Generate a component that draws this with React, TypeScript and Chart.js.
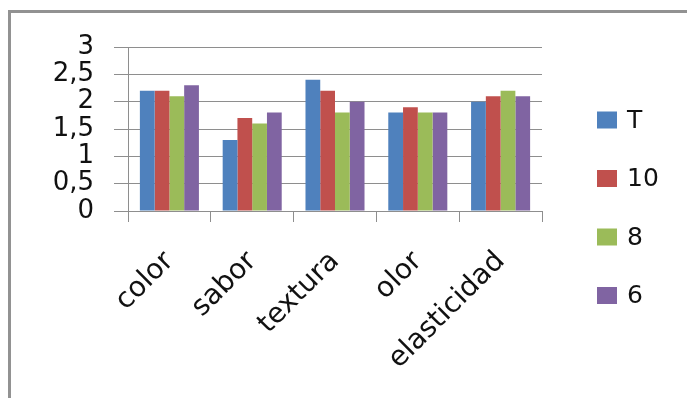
import React, { useEffect, useRef } from 'react';
import { Chart, registerables } from 'chart.js';

Chart.register(...registerables);

const categories = ['color', 'sabor', 'textura', 'olor', 'elasticidad'];
const seriesNames = ['T', '10', '8', '6'];
const seriesT = [2.2, 1.3, 2.4, 1.8, 2.0];
const series10 = [2.2, 1.7, 2.2, 1.9, 2.1];
const series8 = [2.1, 1.6, 1.8, 1.8, 2.2];
const series6 = [2.3, 1.8, 2.0, 1.8, 2.1];
const seriesColors = ['#4F81BD', '#C0504D', '#9BBB59', '#8064A2'];
const yTickLabels = ['0', '0,5', '1', '1,5', '2', '2,5', '3'];

const FONT = '"DejaVu Sans", sans-serif';
const GRID = '#8e8e8e';

const sideLegend = {
  id: 'sideLegend',
  afterDraw(chart: any) {
    const ctx = chart.ctx;
    const x0 = chart.chartArea.right + 55;
    ctx.save();
    ctx.font = `25px ${FONT}`;
    ctx.textBaseline = 'middle';
    ctx.textAlign = 'left';
    chart.data.datasets.forEach((ds: any, i: number) => {
      const cy = 120 + i * 58.5;
      ctx.fillStyle = ds.backgroundColor;
      ctx.fillRect(x0, cy - 8.5, 20, 17);
      ctx.fillStyle = '#111';
      ctx.fillText(ds.label, x0 + 30, cy + 1);
    });
    ctx.restore();
  },
};

export default function App() {
  const ref = useRef<HTMLCanvasElement>(null);
  useEffect(() => {
    if (!ref.current) return;
    const values = [seriesT, series10, series8, series6];
    const chart = new Chart(ref.current, {
      type: 'bar',
      data: {
        labels: categories,
        datasets: seriesNames.map((name, i) => ({
          label: name,
          data: values[i],
          backgroundColor: seriesColors[i],
          borderWidth: 0,
          categoryPercentage: 0.713,
          barPercentage: 1,
        })),
      },
      options: {
        animation: false,
        responsive: false,
        maintainAspectRatio: false,
        events: [],
        layout: { padding: { left: 0, top: 47, right: 145, bottom: 0 } },
        plugins: {
          legend: { display: false },
          tooltip: { enabled: false },
          title: { display: false },
        },
        scales: {
          x: {
            grid: {
              display: true,
              drawOnChartArea: false,
              drawTicks: true,
              tickLength: 11,
              color: GRID,
              offset: true,
            },
            border: { display: true, color: GRID },
            ticks: {
              autoSkip: false,
              minRotation: 45,
              maxRotation: 45,
              padding: 23,
              color: '#111',
              font: { family: FONT, size: 28 },
            },
            afterFit(scale: any) {
              scale.height = 187;
            },
          },
          y: {
            min: 0,
            max: 3,
            ticks: {
              stepSize: 0.5,
              autoSkip: false,
              padding: 20,
              color: '#111',
              font: { family: FONT, size: 26, lineHeight: 0.8 },
              callback: (_v: any, i: number) => yTickLabels[i],
            },
            grid: { color: GRID, tickLength: 14, drawTicks: true },
            border: { display: true, color: GRID },
            afterFit(scale: any) {
              scale.width = 128;
            },
          },
        },
      },
      plugins: [sideLegend],
    });
    return () => chart.destroy();
  }, []);

  return (
    <div style={{ position: 'fixed', left: 0, top: 0, width: 687, height: 398, background: '#fff', overflow: 'hidden' }}>
      <div
        style={{
          position: 'absolute',
          left: 8,
          top: 10,
          width: 720,
          height: 420,
          borderLeft: '3px solid #929292',
          borderTop: '3px solid #929292',
        }}
      />
      <canvas ref={ref} width={687} height={398} style={{ position: 'absolute', left: 0, top: 0, width: 687, height: 398 }} />
    </div>
  );
}
